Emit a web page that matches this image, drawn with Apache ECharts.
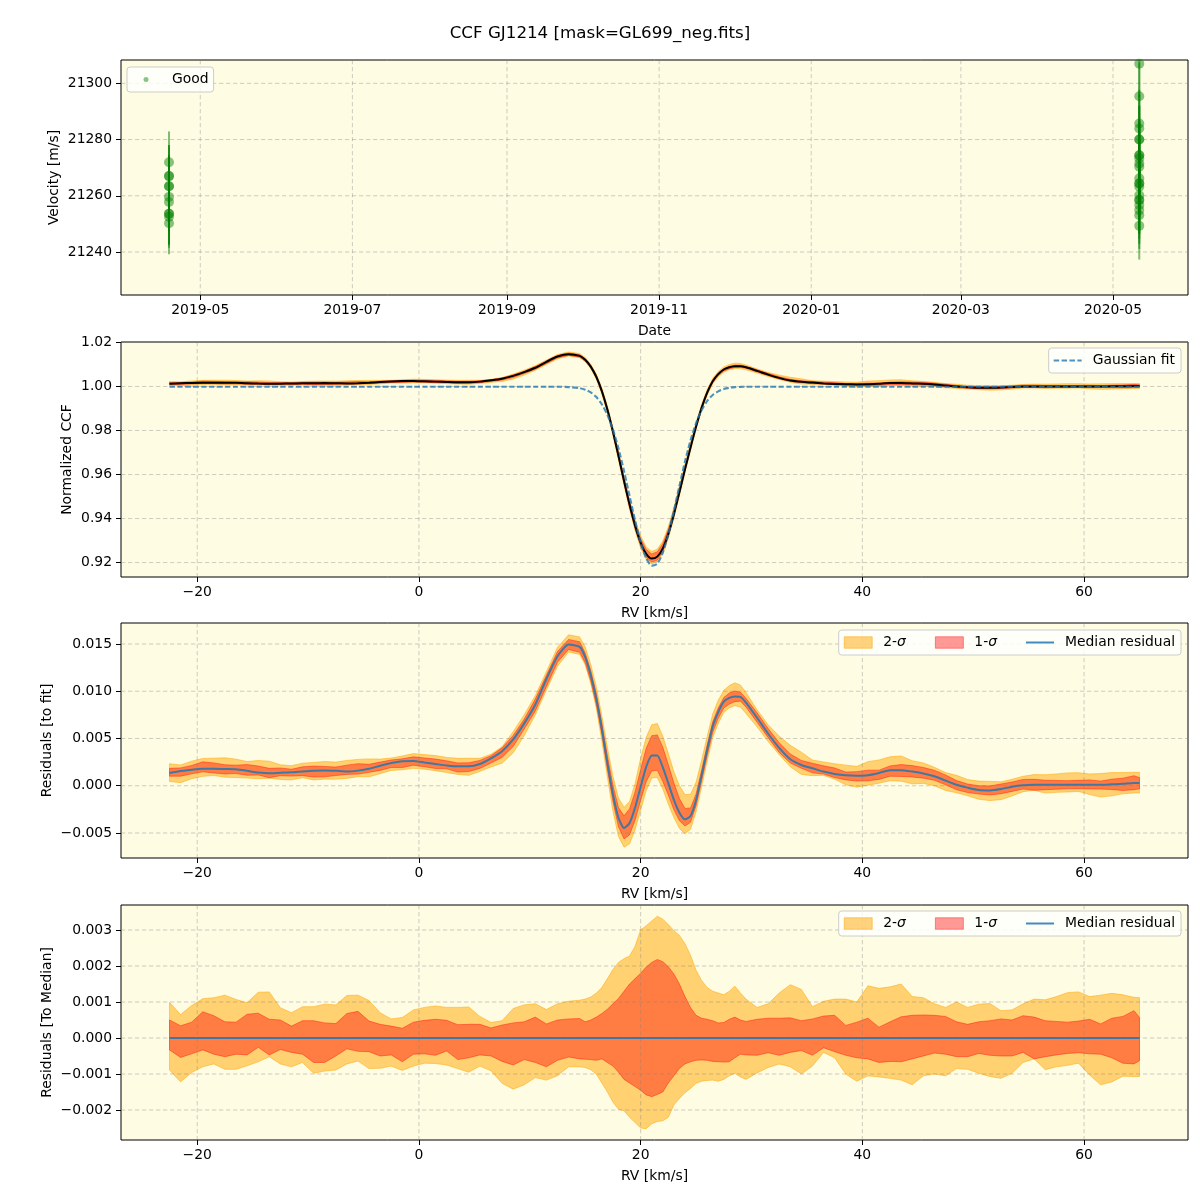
<!DOCTYPE html>
<html><head><meta charset="utf-8">
<script src="https://cdn.jsdelivr.net/npm/echarts@6/dist/echarts.min.js"></script>
<style>html,body{margin:0;padding:0;background:#fff}#c{width:1200px;height:1200px}</style>
</head><body><div id="c"></div>
<script>
// ---------------- DATA ----------------
// Panel 1: observations
const obsDate = [
 '2019-04-18T11:00:00Z','2019-04-18T11:00:00Z','2019-04-18T11:00:00Z','2019-04-18T11:00:00Z','2019-04-18T11:00:00Z','2019-04-18T11:00:00Z',
 '2019-04-18T11:00:00Z','2019-04-18T11:00:00Z','2019-04-18T11:00:00Z','2019-04-18T11:00:00Z','2019-04-18T11:00:00Z',
 '2020-05-11T13:00:00Z','2020-05-11T13:00:00Z','2020-05-11T13:00:00Z','2020-05-11T13:00:00Z','2020-05-11T13:00:00Z','2020-05-11T13:00:00Z',
 '2020-05-11T13:00:00Z','2020-05-11T13:00:00Z','2020-05-11T13:00:00Z','2020-05-11T13:00:00Z','2020-05-11T13:00:00Z','2020-05-11T13:00:00Z',
 '2020-05-11T13:00:00Z','2020-05-11T13:00:00Z','2020-05-11T13:00:00Z','2020-05-11T13:00:00Z','2020-05-11T13:00:00Z','2020-05-11T13:00:00Z',
 '2020-05-11T13:00:00Z','2020-05-11T13:00:00Z','2020-05-11T13:00:00Z','2020-05-11T13:00:00Z'
];
const obsVel = [
 21271.9,21267.0,21267.0,21263.4,21263.4,21259.6,21257.8,21253.6,21253.6,21252.5,21250.2,
 21307.0,21295.4,21285.7,21283.9,21280.0,21280.0,21274.4,21274.4,21273.3,21271.5,21270.3,
 21266.2,21264.4,21264.4,21263.2,21260.2,21258.5,21258.5,21256.7,21254.9,21253.1,21249.3
];
const obsErr = [
 11,11,11,11,11,11,11,11,11,11,11,
 12,12,12,12,12,12,12,12,12,12,12,
 12,12,12,12,12,12,12,12,12,12,12
];
const dateTicks = ['2019-05-01','2019-07-01','2019-09-01','2019-11-01','2020-01-01','2020-03-01','2020-05-01'];
const velTicks = [21240, 21260, 21280, 21300];

// Panels 2-4: RV grid (km/s)
const rv = [-22.5,-21.5,-20.5,-19.5,-18.5,-17.5,-16.5,-15.5,-14.5,-13.5,-12.5,-11.5,-10.5,-9.5,-8.5,-7.5,-6.5,-5.5,-4.5,-3.5,
 -2.5,-1.5,-0.5,0.5,1.5,2.5,3.5,4.5,5.5,6.5,7.5,8.5,9.5,10.5,11.5,12.5,13.5,14.5,
 15,15.5,16,16.5,17,17.5,18,18.5,19,19.5,20,20.5,21,21.5,22,22.5,23,23.5,24,24.5,25,25.5,26,26.5,27,27.5,28,28.5,29,29.5,
 30.5,31.5,32.5,33.5,34.5,35.5,36.5,37.5,38.5,39.5,40.5,41.5,42.5,43.5,44.5,45.5,46.5,47.5,48.5,49.5,
 50.5,51.5,52.5,53.5,54.5,55.5,56.5,57.5,58.5,59.5,60.5,61.5,62.5,63.5,64.5,65];
// median normalized CCF
const ccf = [1.00124,1.00145,1.00160,1.00170,1.00170,1.00167,1.00164,1.00148,1.00130,1.00122,1.00128,1.00132,1.00142,1.00150,1.00152,1.00148,1.00140,1.00150,1.00170,1.00202,
 1.00230,1.00248,1.00252,1.00235,1.00220,1.00205,1.00195,1.00195,1.00220,1.00280,1.00355,1.00480,1.00650,1.00850,1.01120,1.01360,1.01465,1.01390,
 1.01210,1.00900,1.00440,0.99790,0.98950,0.97950,0.96850,0.95712,0.94635,0.93680,0.92910,0.92400,0.92180,0.92270,0.92645,0.93315,0.94200,0.95205,0.96235,0.97230,0.98180,0.99030,0.99720,1.00238,1.00560,1.00770,1.00870,1.00915,1.00920,1.00870,
 1.00710,1.00540,1.00390,1.00270,1.00210,1.00175,1.00140,1.00115,1.00100,1.00095,1.00100,1.00125,1.00155,1.00155,1.00140,1.00120,1.00090,1.00045,1.00000,0.99970,
 0.99945,0.99940,0.99955,0.99980,0.99995,1.00000,1.00000,1.00000,1.00000,1.00000,1.00000,1.00000,1.00005,1.00010,1.00020,1.00020];
// Gaussian fit
const gauss = [0.9999,0.9999,0.9999,0.9999,0.9999,0.9999,0.9999,0.9999,0.9999,0.9999,0.9999,0.9999,0.9999,0.9999,0.9999,0.9999,0.9999,0.9999,0.9999,0.9999,
 0.9999,0.9999,0.9999,0.9999,0.9999,0.9999,0.9999,0.9999,0.9999,0.9999,0.9999,0.9999,0.9999,0.9999,0.9999,0.9999,0.9997,0.9992,
 0.9985,0.9973,0.9952,0.9919,0.9871,0.9804,0.9719,0.9616,0.9503,0.9391,0.9292,0.9220,0.9186,0.9195,0.9245,0.9329,0.9435,0.9549,0.9659,0.9755,0.9833,0.9892,0.9934,0.9961,0.9978,0.9988,0.9994,0.9997,0.9998,0.9999,
 0.9999,0.9999,0.9999,0.9999,0.9999,0.9999,0.9999,0.9999,0.9999,0.9999,0.9999,0.9999,0.9999,0.9999,0.9999,0.9999,0.9999,0.9999,0.9999,0.9999,
 0.9999,0.9999,0.9999,0.9999,0.9999,0.9999,0.9999,0.9999,0.9999,0.9999,0.9999,0.9999,0.9999,0.9999,0.9999,0.9999];
// median residual to fit (units of 1e-3)
const residMilli = [1.34,1.55,1.70,1.80,1.80,1.77,1.74,1.58,1.40,1.32,1.38,1.42,1.52,1.60,1.62,1.58,1.50,1.60,1.80,2.12,
 2.40,2.58,2.62,2.45,2.30,2.15,2.05,2.05,2.30,2.90,3.65,4.90,6.60,8.60,11.30,13.70,14.95,14.70,
 13.60,11.70,9.20,6.00,2.40,-0.90,-3.40,-4.48,-3.95,-2.30,-0.10,2.00,3.20,3.20,1.95,0.25,-1.50,-2.85,-3.55,-3.20,-1.50,1.10,3.80,6.28,7.80,8.90,9.30,9.45,9.40,8.80,
 7.20,5.50,4.00,2.80,2.20,1.85,1.50,1.25,1.10,1.05,1.10,1.35,1.65,1.65,1.50,1.30,1.00,0.55,0.10,-0.20,
 -0.45,-0.50,-0.35,-0.10,0.05,0.10,0.10,0.10,0.10,0.10,0.10,0.10,0.15,0.20,0.30,0.30];
// spread around the median (units of 1e-3)
const sig2Hi = [0.99,0.65,0.90,1.09,1.12,1.19,1.07,0.98,1.27,1.28,0.84,0.70,0.87,0.87,0.94,0.92,1.18,1.19,1.04,0.70,
 0.53,0.57,0.78,0.85,0.89,0.85,0.85,0.86,0.60,0.43,0.48,0.82,0.92,0.95,0.79,0.95,1.02,1.05,
 1.08,1.14,1.25,1.40,1.65,1.90,2.10,2.20,2.28,2.55,3.00,3.12,3.25,3.38,3.30,3.15,2.98,2.85,2.62,2.30,1.88,1.60,1.40,1.30,1.25,1.20,1.30,1.44,1.25,1.08,
 0.85,0.95,1.25,1.48,1.35,0.87,1.02,1.08,1.08,1.00,1.45,1.38,1.42,1.50,1.15,1.12,0.95,0.85,1.00,0.85,
 0.94,0.96,0.76,0.78,0.95,1.08,1.06,1.15,1.26,1.28,1.15,1.19,1.24,1.20,1.13,1.12];
const sig2Lo = [-0.89,-1.22,-0.96,-0.80,-0.72,-0.87,-0.87,-0.77,-0.66,-0.52,-0.72,-0.80,-0.68,-0.98,-0.92,-0.89,-0.72,-0.64,-0.85,-0.84,
 -0.78,-0.90,-0.78,-0.70,-0.71,-0.75,-0.85,-0.95,-0.78,-0.91,-1.26,-1.42,-1.30,-1.10,-1.17,-1.05,-0.80,-0.80,
 -0.82,-0.88,-1.00,-1.25,-1.50,-1.78,-1.98,-2.02,-2.20,-2.35,-2.50,-2.52,-2.38,-2.32,-2.30,-2.20,-1.86,-1.68,-1.52,-1.40,-1.26,-1.20,-1.18,-1.17,-1.20,-1.15,-1.05,-0.98,-1.08,-1.15,
 -0.97,-0.82,-0.72,-0.80,-1.00,-0.78,-0.40,-0.55,-1.00,-1.20,-1.05,-1.08,-1.12,-1.17,-1.30,-1.05,-1.00,-1.05,-0.85,-0.87,
 -0.98,-1.07,-1.12,-0.98,-0.68,-0.58,-0.88,-0.80,-0.76,-0.70,-1.03,-1.30,-1.22,-1.06,-1.07,-1.07];
const sig1Hi = [0.50,0.34,0.44,0.73,0.62,0.45,0.44,0.66,0.69,0.52,0.50,0.33,0.48,0.48,0.42,0.40,0.68,0.74,0.47,0.38,
 0.33,0.27,0.44,0.49,0.52,0.49,0.37,0.38,0.38,0.28,0.36,0.42,0.45,0.58,0.39,0.50,0.53,0.54,
 0.45,0.50,0.58,0.68,0.80,0.95,1.10,1.30,1.50,1.65,1.80,1.97,2.10,2.18,2.12,1.98,1.78,1.50,1.15,0.85,0.63,0.55,0.52,0.48,0.42,0.43,0.52,0.58,0.50,0.46,
 0.52,0.55,0.55,0.56,0.48,0.53,0.61,0.63,0.35,0.44,0.55,0.30,0.45,0.59,0.63,0.64,0.63,0.60,0.45,0.38,
 0.45,0.48,0.53,0.50,0.62,0.58,0.48,0.46,0.44,0.47,0.52,0.39,0.55,0.60,0.76,0.57];
const sig1Lo = [-0.33,-0.54,-0.44,-0.33,-0.45,-0.52,-0.45,-0.47,-0.26,-0.47,-0.32,-0.40,-0.45,-0.68,-0.68,-0.50,-0.30,-0.37,-0.38,-0.50,
 -0.47,-0.66,-0.45,-0.44,-0.48,-0.36,-0.60,-0.55,-0.47,-0.50,-0.65,-0.75,-0.60,-0.68,-0.80,-0.62,-0.53,-0.58,
 -0.59,-0.60,-0.62,-0.58,-0.68,-0.78,-0.95,-1.15,-1.25,-1.35,-1.45,-1.58,-1.63,-1.57,-1.50,-1.25,-1.05,-0.85,-0.72,-0.66,-0.62,-0.61,-0.62,-0.65,-0.66,-0.67,-0.66,-0.55,-0.45,-0.47,
 -0.48,-0.41,-0.48,-0.40,-0.35,-0.48,-0.27,-0.38,-0.48,-0.55,-0.58,-0.68,-0.65,-0.66,-0.58,-0.50,-0.42,-0.45,-0.52,-0.52,
 -0.43,-0.48,-0.50,-0.50,-0.40,-0.58,-0.52,-0.47,-0.43,-0.41,-0.44,-0.45,-0.55,-0.70,-0.72,-0.63];
const medianToMedian = [0.0, 0.0];
const rvTicks = [-20, 0, 20, 40, 60];
const ccfTicks = [0.92, 0.94, 0.96, 0.98, 1.00, 1.02];
const resTicks = [-0.005, 0.000, 0.005, 0.010, 0.015];
const medTicks = [-0.002, -0.001, 0.000, 0.001, 0.002, 0.003];

// ---------------- STYLE / BUILD ----------------
const FONT = 'DejaVu Sans';
const FS = 13.9;
const BG = '#fefce3';
const GRIDC = 'rgba(128,128,128,0.38)';
const C2 = 'rgba(255,165,0,0.5)';
const C1 = 'rgba(255,0,0,0.4)';
const BLUE = 'rgba(31,119,180,0.85)';
const GBLUE = 'rgba(31,119,180,0.8)';
const GREEN = 'rgba(0,128,0,0.58)';
const t = s => Date.parse(s);
const minus = s => String(s).replace('-', '\u2212');
const milli = 1e-3;

const chart = echarts.init(document.getElementById('c'), null, {renderer: 'canvas'});

const gridPos = [60, 342, 623, 905];
const grids = gridPos.map(top => ({left: 121, top: top, width: 1067, height: 235, show: true,
  backgroundColor: BG, borderColor: '#000', borderWidth: 1, containLabel: false, outerBoundsMode: 'none'}));

const labelStyle = {color: '#000', fontFamily: FONT, fontSize: FS};
const nameStyle = {color: '#000', fontFamily: FONT, fontSize: FS};
function xAxisCfg(idx, min, max, ticks, fmt, name) {
  return {type: 'value', gridIndex: idx, min, max, name, nameLocation: 'middle', nameGap: 29, nameTextStyle: nameStyle,
    position: 'bottom',
    axisLine: {show: false, onZero: false}, splitLine: {show: false},
    axisTick: {show: true, customValues: ticks, length: 5, lineStyle: {color: '#000', width: 1}},
    axisLabel: Object.assign({customValues: ticks, formatter: fmt, margin: 8}, labelStyle)};
}
function yAxisCfg(idx, min, max, ticks, fmt, name, gap) {
  return {type: 'value', gridIndex: idx, min, max, name, nameLocation: 'middle', nameGap: gap, nameTextStyle: nameStyle,
    position: 'left', nameMoveOverlap: false,
    axisLine: {show: false, onZero: false}, splitLine: {show: false},
    axisTick: {show: true, customValues: ticks, length: 5, lineStyle: {color: '#000', width: 1}},
    axisLabel: Object.assign({customValues: ticks, formatter: fmt, margin: 9}, labelStyle)};
}
const dateFmt = v => { const d = new Date(v); return d.getUTCFullYear() + '-' + String(d.getUTCMonth() + 1).padStart(2, '0'); };
const rvFmt = v => minus(Math.round(v));
const fix = n => v => minus(Number(v).toFixed(n));

const dateTickTs = dateTicks.map(d => t(d + 'T00:00:00Z'));
const xMin1 = t('2019-03-30T05:00:00Z'), xMax1 = t('2020-05-31T02:00:00Z');
const xAxes = [
  xAxisCfg(0, xMin1, xMax1, dateTickTs, dateFmt, 'Date'),
  xAxisCfg(1, -26.875, 69.375, rvTicks, rvFmt, 'RV [km/s]'),
  xAxisCfg(2, -26.875, 69.375, rvTicks, rvFmt, 'RV [km/s]'),
  xAxisCfg(3, -26.875, 69.375, rvTicks, rvFmt, 'RV [km/s]')
];
const yr = [[21224.7, 21308.3], [0.91345, 1.0202], [-0.007646, 0.017222], [-0.002833, 0.003694]];
const yAxes = [
  yAxisCfg(0, yr[0][0], yr[0][1], velTicks, v => String(Math.round(v)), 'Velocity [m/s]', 60),
  yAxisCfg(1, yr[1][0], yr[1][1], ccfTicks, fix(2), 'Normalized CCF', 47),
  yAxisCfg(2, yr[2][0], yr[2][1], resTicks, fix(3), 'Residuals [to fit]', 67),
  yAxisCfg(3, yr[3][0], yr[3][1], medTicks, fix(3), 'Residuals [To Median]', 67)
];

function gridLines(idx, xVals, yVals, xMid, yMid) {
  const data = xVals.map(v => [v, yMid, 0]).concat(yVals.map(v => [xMid, v, 1]));
  return {type: 'custom', xAxisIndex: idx, yAxisIndex: idx, data, z: 2, silent: true,
    encode: {x: 0, y: 1},
    renderItem: (params, api) => {
      const cs = params.coordSys;
      const p = api.coord([api.value(0), api.value(1)]);
      const shape = api.value(2) === 0
        ? {x1: p[0], y1: cs.y, x2: p[0], y2: cs.y + cs.height}
        : {x1: cs.x, y1: p[1], x2: cs.x + cs.width, y2: p[1]};
      return {type: 'line', shape, style: {stroke: GRIDC, lineWidth: 1, lineDash: [4.3, 2.7]}};
    }};
}

// filled band between base+lo and base+hi (polygon through the axis scales)
function band(idx, base, lo, hi, name, color) {
  return {type: 'custom', name: name, xAxisIndex: idx, yAxisIndex: idx, z: 1, silent: true,
    data: [[rv[0], base[0]]], encode: {x: 0, y: 1}, itemStyle: {color: color},
    renderItem: (params, api) => {
      const up = rv.map((x, i) => api.coord([x, base[i] + hi[i] * milli]));
      const dn = rv.map((x, i) => api.coord([x, base[i] + lo[i] * milli])).reverse();
      return {type: 'polygon', shape: {points: up.concat(dn)},
        style: {fill: color, stroke: color, lineWidth: 1, lineJoin: 'round'}};
    }};
}

const residAbs = residMilli.map(v => v * milli);
const rvMid = 20, ccfMid = 0.97;

const series = [];
// Panel 1
series.push(gridLines(0, dateTickTs, velTicks, t('2019-10-01T00:00:00Z'), 21270));
series.push({type: 'custom', xAxisIndex: 0, yAxisIndex: 0, z: 3, silent: true,
  data: obsVel.map((v, i) => [t(obsDate[i]), v - obsErr[i], v + obsErr[i]]),
  encode: {x: 0, y: [1, 2]},
  renderItem: (params, api) => {
    const cs = params.coordSys;
    const x = api.value(0);
    const p1 = api.coord([x, api.value(1)]), p2 = api.coord([x, api.value(2)]);
    const y1 = Math.max(Math.min(p1[1], p2[1]), cs.y), y2 = Math.min(Math.max(p1[1], p2[1]), cs.y + cs.height);
    return {type: 'line', shape: {x1: p1[0], y1: y1, x2: p1[0], y2: y2},
      style: {stroke: 'rgba(0,128,0,0.5)', lineWidth: 2}};
  }});
series.push({type: 'scatter', name: 'Good', xAxisIndex: 0, yAxisIndex: 0, z: 3, silent: true,
  data: obsVel.map((v, i) => [t(obsDate[i]), v]), symbolSize: 10,
  itemStyle: {color: GREEN}});

// Panel 2
series.push(gridLines(1, rvTicks, ccfTicks, rvMid, ccfMid));
series.push(band(1, ccf, sig2Lo, sig2Hi, '_p2s2', C2));
series.push(band(1, ccf, sig1Lo, sig1Hi, '_p2s1', C1));
series.push({type: 'line', name: '_ccf', xAxisIndex: 1, yAxisIndex: 1, z: 3, silent: true, symbol: 'none', smooth: 0.25,
  data: rv.map((x, i) => [x, ccf[i]]), lineStyle: {color: '#000', width: 2}});
series.push({type: 'line', name: 'Gaussian fit', xAxisIndex: 1, yAxisIndex: 1, z: 4, silent: true, symbol: 'none', smooth: 0.25,
  data: rv.map((x, i) => [x, gauss[i]]), itemStyle: {color: GBLUE},
  lineStyle: {color: GBLUE, width: 2.1, type: [5.5, 2.4]}});

// Panel 3
series.push(gridLines(2, rvTicks, resTicks, rvMid, 0.005));
series.push(band(2, residAbs, sig2Lo, sig2Hi, '2-σ', C2));
series.push(band(2, residAbs, sig1Lo, sig1Hi, '1-σ', C1));
series.push({type: 'line', name: 'Median residual', xAxisIndex: 2, yAxisIndex: 2, z: 3, silent: true, symbol: 'none', smooth: 0.2,
  data: rv.map((x, i) => [x, residAbs[i]]), itemStyle: {color: BLUE}, lineStyle: {color: BLUE, width: 2}});

// Panel 4
const zeroBase = rv.map(() => medianToMedian[0]);
series.push(gridLines(3, rvTicks, medTicks, rvMid, 0.0005));
series.push(band(3, zeroBase, sig2Lo, sig2Hi, '2-σ', C2));
series.push(band(3, zeroBase, sig1Lo, sig1Hi, '1-σ', C1));
series.push({type: 'line', name: 'Median residual', xAxisIndex: 3, yAxisIndex: 3, z: 3, silent: true, symbol: 'none',
  data: [[rv[0], medianToMedian[0]], [rv[rv.length - 1], medianToMedian[1]]],
  itemStyle: {color: BLUE}, lineStyle: {color: BLUE, width: 2}});

const legendBase = {orient: 'horizontal', selectedMode: false, backgroundColor: 'rgba(255,255,255,0.8)',
  borderColor: '#cccccc', borderWidth: 1, borderRadius: 3, padding: [4.5, 6, 4.5, 5],
  itemWidth: 28, itemHeight: 11.5, itemGap: 29,
  textStyle: {fontFamily: FONT, fontSize: FS, color: '#000', lineHeight: 16, padding: [0, 0, 0, 6],
    rich: {s: {fontFamily: FONT, fontSize: FS, fontStyle: 'italic', color: '#000', lineHeight: 16}}},
  formatter: n => n.replace('σ', '{s|σ}')};
const LINE_ICON = 'path://M0,0h28v2h-28z';
const DASH_ICON = 'path://M0,0h5.5v2h-5.5z M7.9,0h5.5v2h-5.5z M15.8,0h5.5v2h-5.5z M23.7,0h4.3v2h-4.3z';
const sigItems = [
  {name: '2-σ', icon: 'rect', itemStyle: {color: C2, borderColor: C2, borderWidth: 1}},
  {name: '1-σ', icon: 'rect', itemStyle: {color: C1, borderColor: C1, borderWidth: 1}},
  {name: 'Median residual', icon: LINE_ICON, itemStyle: {color: BLUE, borderWidth: 0}}
];
const legends = [
  Object.assign({}, legendBase, {left: 127, top: 67, itemWidth: 5, itemHeight: 5, padding: [4.5, 5, 4.5, 16.5],
    textStyle: Object.assign({}, legendBase.textStyle, {padding: [0, 0, 0, 18.5]}),
    data: [{name: 'Good', icon: 'circle', itemStyle: {color: GREEN, borderWidth: 0}}]}),
  Object.assign({}, legendBase, {right: 19, top: 348,
    data: [{name: 'Gaussian fit', icon: DASH_ICON, itemStyle: {color: GBLUE, borderWidth: 0}}]}),
  Object.assign({}, legendBase, {right: 19, top: 630, data: sigItems}),
  Object.assign({}, legendBase, {right: 19, top: 911, data: sigItems})
];

chart.setOption({
  animation: false,
  backgroundColor: '#ffffff',
  title: {text: 'CCF GJ1214 [mask=GL699_neg.fits]', left: 'center', top: 25, padding: 0,
    textStyle: {fontFamily: FONT, fontSize: 16.7, fontWeight: 'normal', color: '#000'}},
  grid: grids,
  xAxis: xAxes,
  yAxis: yAxes,
  legend: legends,
  series: series
});
</script></body></html>
